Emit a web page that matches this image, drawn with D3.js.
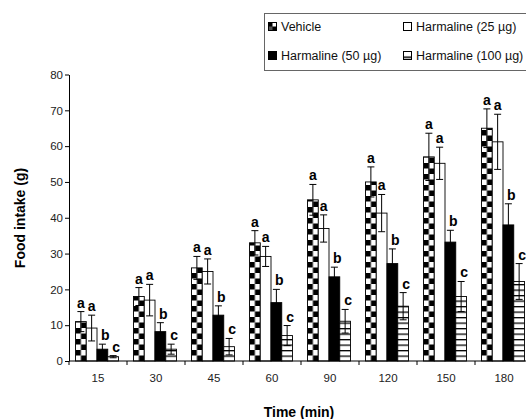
<!DOCTYPE html>
<html>
<head>
<meta charset="utf-8">
<script src="https://cdn.jsdelivr.net/npm/d3@7"></script>
<style>
    body { margin: 0; background: white; }
    svg { display: block; font-family: "Liberation Sans", Arial, sans-serif; }
</style>
</head>
<body>
<div id="chart"></div>
<script>
// chart data
const times = ["15", "30", "45", "60", "90", "120", "150", "180"];
const groups = ["Vehicle", "Harmaline (25 µg)", "Harmaline (50 µg)", "Harmaline (100 µg)"];

const vehicle = [11, 18, 26, 33, 45, 50, 57, 65];
const vehicleErr = [2.8, 2.5, 3.2, 3.4, 4.3, 4.2, 6.6, 5.4];
const harm25 = [9.2, 17, 25, 29.2, 37, 41.3, 55.2, 61.2];
const harm25Err = [3.6, 4.4, 3.5, 2.8, 3.8, 5.2, 4.5, 7.7];
const harm50 = [3.3, 8.2, 12.8, 16.3, 23.5, 27.2, 33.2, 38];
const harm50Err = [1.4, 2.5, 2.6, 3.7, 2.7, 4.1, 3.3, 5.9];
const harm100 = [1.2, 3.3, 4, 7.1, 11.1, 15.3, 18, 22.2];
const harm100Err = [0.3, 1.4, 2.3, 2.8, 3.3, 3.8, 4.2, 5];

const letters = ["a", "a", "b", "c"]; // significance letter per group
const yTicks = [0, 10, 20, 30, 40, 50, 60, 70, 80];

const seriesValues = [vehicle, harm25, harm50, harm100];
const seriesErrors = [vehicleErr, harm25Err, harm50Err, harm100Err];

// page setup
const width = 526;
const height = 419;
const plot = { left: 69, top: 74.5, bottom: 361, catWidth: 58 };

const svg = d3.select("#chart")
    .append("svg")
    .attr("width", width)
    .attr("height", height);

// scales
const x = d3.scaleBand()
    .domain(times)
    .range([plot.left, plot.left + plot.catWidth * times.length])
    .padding(0);

const xInner = d3.scaleBand()
    .domain(groups)
    .range([6.5, 49.5]);

const y = d3.scaleLinear()
    .domain([0, 80])
    .range([plot.bottom, plot.top]);

const barW = xInner.bandwidth();

// fill patterns
const defs = svg.append("defs");

const checker = defs.append("pattern")
    .attr("id", "checker")
    .attr("patternUnits", "userSpaceOnUse")
    .attr("x", 0)
    .attr("y", plot.bottom)
    .attr("width", barW)
    .attr("height", 11);
checker.append("rect").attr("width", barW).attr("height", 11).attr("fill", "white");
checker.append("rect").attr("x", 0).attr("y", 0).attr("width", barW / 2).attr("height", 5.5).attr("fill", "black");
checker.append("rect").attr("x", barW / 2).attr("y", 5.5).attr("width", barW / 2).attr("height", 5.5).attr("fill", "black");

const stripes = defs.append("pattern")
    .attr("id", "stripes")
    .attr("patternUnits", "userSpaceOnUse")
    .attr("x", 0)
    .attr("y", plot.bottom)
    .attr("width", 10)
    .attr("height", 5.5);
stripes.append("rect").attr("width", 10).attr("height", 5.5).attr("fill", "white");
stripes.append("rect").attr("y", 0).attr("width", 10).attr("height", 1.3).attr("fill", "black");

const fills = ["url(#checker)", "white", "black", "url(#stripes)"];

// legend markers use small copies of the patterns
const checkerSmall = defs.append("pattern")
    .attr("id", "checker-small")
    .attr("patternUnits", "objectBoundingBox")
    .attr("patternContentUnits", "objectBoundingBox")
    .attr("width", 1)
    .attr("height", 1);
checkerSmall.append("rect").attr("width", 1).attr("height", 1).attr("fill", "white");
checkerSmall.append("rect").attr("width", 0.5).attr("height", 0.5).attr("fill", "black");
checkerSmall.append("rect").attr("x", 0.5).attr("y", 0.5).attr("width", 0.5).attr("height", 0.5).attr("fill", "black");
checkerSmall.append("rect").attr("x", 0).attr("y", 0.5).attr("width", 0.5).attr("height", 0.5).attr("fill", "#555");

const stripesSmall = defs.append("pattern")
    .attr("id", "stripes-small")
    .attr("patternUnits", "objectBoundingBox")
    .attr("patternContentUnits", "objectBoundingBox")
    .attr("width", 1)
    .attr("height", 1);
stripesSmall.append("rect").attr("width", 1).attr("height", 1).attr("fill", "white");
stripesSmall.append("rect").attr("y", 0.62).attr("width", 1).attr("height", 0.2).attr("fill", "black");

const legendFills = ["url(#checker-small)", "white", "black", "url(#stripes-small)"];

// flatten into one row per bar
const bars = [];
times.forEach((t, i) => {
    groups.forEach((g, j) => {
        bars.push({
            time: t,
            group: g,
            idx: j,
            value: seriesValues[j][i],
            err: seriesErrors[j][i],
            letter: letters[j]
        });
    });
});

// bars, each in its own group so patterns line up with the bar edge
const barG = svg.append("g")
    .selectAll("g")
    .data(bars)
    .enter()
    .append("g")
    .attr("transform", d => `translate(${x(d.time) + xInner(d.group)},0)`);

barG.append("rect")
    .attr("x", 0)
    .attr("y", d => y(d.value))
    .attr("width", barW)
    .attr("height", d => y(0) - y(d.value))
    .attr("fill", d => fills[d.idx])
    .attr("stroke", "black")
    .attr("stroke-width", 0.9);

// error bars (symmetric, caps on both ends)
const errG = barG.append("g")
    .attr("stroke", "black")
    .attr("stroke-width", 1);

errG.append("line")
    .attr("x1", barW / 2)
    .attr("x2", barW / 2)
    .attr("y1", d => y(Math.max(0, d.value - d.err)))
    .attr("y2", d => y(d.value + d.err));

errG.append("line")
    .attr("x1", barW / 2 - 3.5)
    .attr("x2", barW / 2 + 3.5)
    .attr("y1", d => y(d.value + d.err))
    .attr("y2", d => y(d.value + d.err));

errG.append("line")
    .attr("x1", barW / 2 - 3.5)
    .attr("x2", barW / 2 + 3.5)
    .attr("y1", d => y(Math.max(0, d.value - d.err)))
    .attr("y2", d => y(Math.max(0, d.value - d.err)));

// significance letters above the error bars
barG.append("text")
    .attr("x", d => barW / 2 + (d.idx >= 2 ? 3 : 0))
    .attr("y", d => y(d.value + d.err) - 4)
    .attr("text-anchor", "middle")
    .attr("font-size", "14px")
    .attr("font-weight", "bold")
    .attr("fill", "black")
    .text(d => d.letter);

// y axis
const yAxis = svg.append("g")
    .attr("transform", `translate(${plot.left},0)`)
    .call(d3.axisLeft(y).tickValues(yTicks).tickSize(4).tickSizeOuter(0));

yAxis.select(".domain").attr("stroke", "black");
yAxis.selectAll(".tick line").attr("stroke", "black");
yAxis.selectAll(".tick text")
    .attr("x", -6)
    .attr("font-family", "Liberation Sans, Arial, sans-serif")
    .attr("font-size", "11.5px")
    .attr("fill", "#222");

// x axis: ticks sit on category boundaries, labels in the middle
const xAxis = svg.append("g")
    .attr("transform", `translate(0,${plot.bottom})`);

xAxis.append("line")
    .attr("x1", plot.left)
    .attr("x2", x.range()[1])
    .attr("stroke", "black");

xAxis.selectAll(".bound")
    .data(times)
    .enter()
    .append("line")
    .attr("class", "bound")
    .attr("x1", d => x(d) + x.bandwidth())
    .attr("x2", d => x(d) + x.bandwidth())
    .attr("y1", 0)
    .attr("y2", 4)
    .attr("stroke", "black");

xAxis.append("line")
    .attr("x1", plot.left)
    .attr("x2", plot.left)
    .attr("y1", 0)
    .attr("y2", 4)
    .attr("stroke", "black");

xAxis.selectAll(".label")
    .data(times)
    .enter()
    .append("text")
    .attr("class", "label")
    .attr("x", d => x(d) + x.bandwidth() / 2)
    .attr("y", 21)
    .attr("text-anchor", "middle")
    .attr("font-size", "11.5px")
    .attr("fill", "#222")
    .text(d => d);

// axis titles
svg.append("text")
    .attr("x", 299)
    .attr("y", 417)
    .attr("text-anchor", "middle")
    .attr("font-size", "14px")
    .attr("font-weight", "bold")
    .attr("fill", "black")
    .text("Time (min)");

svg.append("text")
    .attr("transform", "translate(25,218) rotate(-90)")
    .attr("text-anchor", "middle")
    .attr("font-size", "14px")
    .attr("font-weight", "bold")
    .attr("fill", "black")
    .text("Food intake (g)");

// legend box (runs off the right edge like the original)
const legend = svg.append("g");

legend.append("rect")
    .attr("x", 264.5)
    .attr("y", 13.5)
    .attr("width", 290)
    .attr("height", 57)
    .attr("fill", "white")
    .attr("stroke", "#666")
    .attr("stroke-width", 1);

const legendPos = [[268, 26], [403, 26], [268, 55], [403, 55]];

const legendItem = legend.selectAll(".item")
    .data(groups)
    .enter()
    .append("g")
    .attr("class", "item")
    .attr("transform", (d, i) => `translate(${legendPos[i][0]},${legendPos[i][1]})`);

legendItem.append("rect")
    .attr("x", 0.5)
    .attr("y", -3.5)
    .attr("width", 8)
    .attr("height", 8)
    .attr("fill", (d, i) => legendFills[i])
    .attr("stroke", "black")
    .attr("stroke-width", 1);

legendItem.append("text")
    .attr("x", 13)
    .attr("y", 4.5)
    .attr("font-size", "12.5px")
    .attr("fill", "#111")
    .text(d => d);
</script>
</body>
</html>
